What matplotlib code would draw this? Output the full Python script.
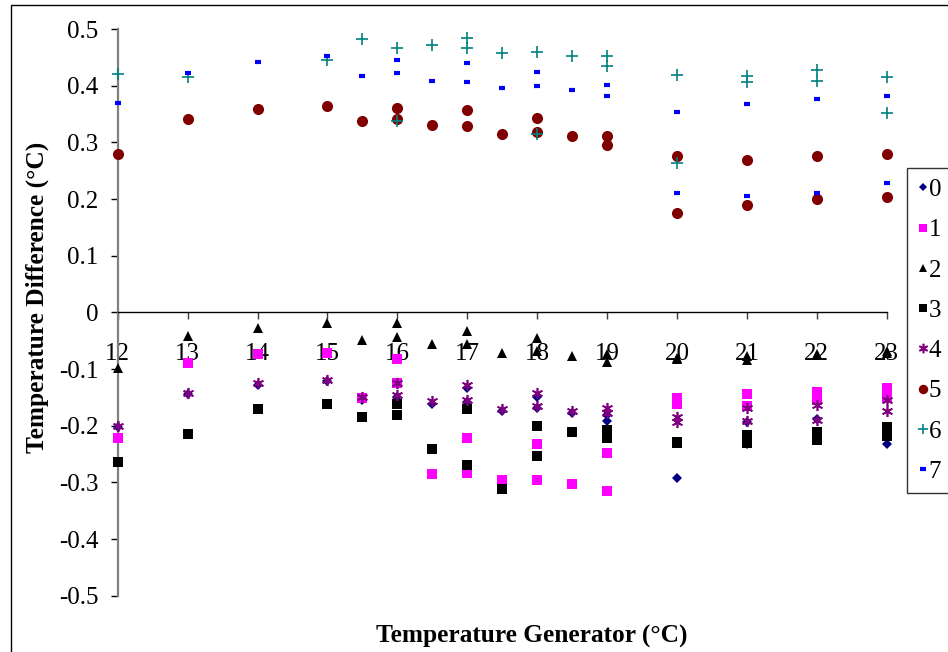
import matplotlib
matplotlib.use("Agg")
import matplotlib.pyplot as plt
from matplotlib.patches import Rectangle

plt.rcParams['font.family'] = ['Liberation Serif', 'DejaVu Serif']

x_main = [12, 13, 14, 15, 15.5, 16, 16, 16.5, 17, 17, 17.5, 18, 18, 18.5, 19, 19,
          20, 20, 21, 21, 22, 22, 23, 23]
x_s6 = [12, 13, 15, 15.5, 16, 16, 16.5, 17, 17, 17.5, 18, 18, 18.5, 19, 19,
        20, 20, 21, 21, 22, 22, 23, 23]

s0 = [-0.202, -0.144, -0.128, -0.121, -0.155, -0.127, -0.149, -0.161, -0.134, -0.158, -0.174,
      -0.150, -0.169, -0.177, -0.181, -0.191, -0.230, -0.293, -0.193, -0.232, -0.188, -0.226,
      -0.233, -0.220]
s1 = [-0.221, -0.089, -0.074, -0.071, -0.152, -0.083, -0.125, -0.285, -0.221, -0.284, -0.296,
      -0.232, -0.295, -0.303, -0.248, -0.316, -0.151, -0.161, -0.144, -0.165, -0.140, -0.155,
      -0.134, -0.149]
s2 = [-0.098, -0.042, -0.027, -0.018, -0.049, -0.019, -0.043, -0.055, -0.033, -0.055, -0.071,
      -0.046, -0.068, -0.077, -0.074, -0.088, -0.080, -0.082, -0.077, -0.084, -0.074, -0.076,
      -0.069, -0.072]
s3 = [-0.264, -0.214, -0.171, -0.162, -0.184, -0.162, -0.181, -0.241, -0.171, -0.269, -0.312,
      -0.200, -0.254, -0.211, -0.208, -0.221, -0.228, -0.231, -0.217, -0.231, -0.211, -0.225,
      -0.202, -0.218]
s4 = [-0.201, -0.143, -0.125, -0.119, -0.150, -0.124, -0.146, -0.157, -0.128, -0.155, -0.171,
      -0.142, -0.165, -0.174, -0.169, -0.178, -0.184, -0.193, -0.169, -0.191, -0.164, -0.190,
      -0.154, -0.174]
s5 = [0.279, 0.341, 0.358, 0.365, 0.338, 0.361, 0.341, 0.330, 0.357, 0.329, 0.315, 0.343,
      0.318, 0.311, 0.312, 0.296, 0.276, 0.175, 0.268, 0.189, 0.276, 0.200, 0.280, 0.204]
s6 = [0.4205, 0.415, 0.445, 0.482, 0.466, 0.338, 0.471, 0.485, 0.466, 0.457, 0.460, 0.315,
      0.453, 0.453, 0.435, 0.418, 0.264, 0.417, 0.406, 0.428, 0.409, 0.416, 0.352]
s7 = [0.369, 0.423, 0.441, 0.452, 0.4175, 0.445, 0.422, 0.409, 0.440, 0.407, 0.396, 0.424,
      0.400, 0.393, 0.401, 0.382, 0.354, 0.211, 0.368, 0.205, 0.376, 0.211, 0.382, 0.229]

labels = ['0', '1', '2', '3', '4', '5', '6', '7']
x_ticks = list(range(12, 24))
y_ticks = [-0.5, -0.4, -0.3, -0.2, -0.1, 0, 0.1, 0.2, 0.3, 0.4, 0.5]
y_ticklabels = ['-0.5', '-0.4', '-0.3', '-0.2', '-0.1', '0', '0.1', '0.2', '0.3', '0.4', '0.5']

W, H = 948, 652
fig = plt.figure(figsize=(W / 100, H / 100), dpi=100)
ax = fig.add_axes([117.7 / W, 1 - 595.7 / H, (886.7 - 117.7) / W, (595.7 - 29) / H])

styles = [
    dict(marker='D', color='#000080', ms=5, mew=0),
    dict(marker='s', color='#FF00FF', ms=6.5, mew=0),
    dict(marker='^', color='black', ms=7, mew=0),
    dict(marker='s', color='black', ms=6.5, mew=0),
    dict(marker=(6, 2, 0), color='#800080', ms=8, mew=1.2),
    dict(marker='o', color='#800000', ms=8, mew=0),
    dict(marker='+', color='#008080', ms=8, mew=1.2),
    dict(marker='_', color='#0000FF', ms=5, mew=3),
]
series = [(x_main, s0), (x_main, s1), (x_main, s2), (x_main, s3),
          (x_main, s4), (x_main, s5), (x_s6, s6), (x_main, s7)]

handles = []
for i, ((xs, ys), st) in enumerate(zip(series, styles)):
    h, = ax.plot(xs, ys, linestyle='none', marker=st['marker'], markersize=st['ms'],
                 markerfacecolor=st['color'], markeredgecolor=st['color'],
                 markeredgewidth=st['mew'], clip_on=False, zorder=3 + i, label=labels[i])
    handles.append(h)

ax.set_xlim(12, 23)
ax.set_ylim(-0.5, 0.5)
ax.spines['top'].set_visible(False)
ax.spines['right'].set_visible(False)
ax.spines['bottom'].set_position(('data', 0))
ax.spines['bottom'].set_linewidth(1.0)
ax.spines['bottom'].set_color('black')
ax.spines['left'].set_linewidth(1.6)
ax.spines['left'].set_color('#808080')

ax.set_xticks(x_ticks)
ax.set_xticklabels([str(t) for t in x_ticks])
ax.set_yticks(y_ticks)
ax.set_yticklabels(y_ticklabels)
ax.tick_params(axis='x', direction='out', length=5, width=1, color='#404040',
               labelsize=18, pad=17)
ax.tick_params(axis='y', direction='out', length=5, width=1, color='black',
               labelsize=18, pad=9)

fig.text(531.5 / W, 1 - 636 / H, 'Temperature Generator (°C)', ha='center', va='center',
         fontsize=18.3, fontweight='bold')
fig.text(37.5 / W, 1 - 297 / H, 'Temperature Difference (°C)', ha='center', va='center',
         rotation=90, fontsize=18.3, fontweight='bold')

leg = fig.legend(handles=handles, loc='upper left', bbox_to_anchor=(907 / W, 1 - 168 / H),
                 borderaxespad=0, frameon=True, fancybox=False, shadow=False,
                 fontsize=18, handlelength=0.4, handletextpad=0.05, labelspacing=0.71,
                 borderpad=0.42, markerscale=0.85)
leg.get_frame().set_edgecolor('black')
leg.get_frame().set_linewidth(1.0)

fig.patches.append(Rectangle((11 / W, -0.1), 1.2, 1.1 - 5 / H, transform=fig.transFigure,
                             fill=False, edgecolor='black', linewidth=1.0))

fig.savefig('out.png', dpi=100)
